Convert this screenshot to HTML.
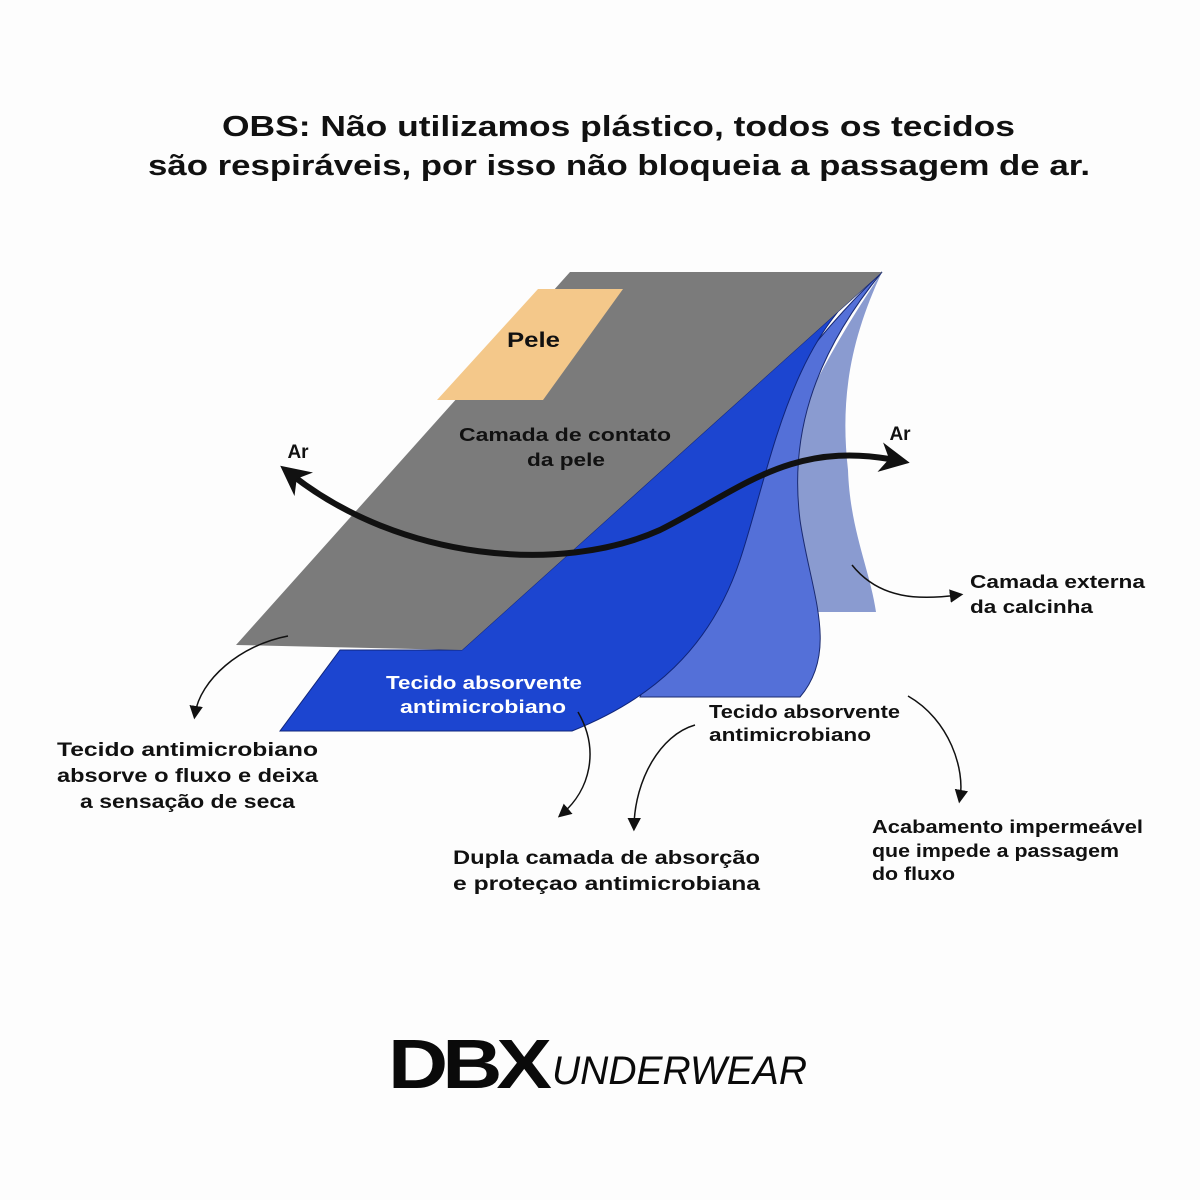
<!DOCTYPE html>
<html><head><meta charset="utf-8"><style>
html,body{margin:0;padding:0;background:#fdfdfd;}
svg{display:block}
text{font-family:"Liberation Sans","DejaVu Sans",sans-serif;font-weight:bold;}
</style></head><body>
<svg width="1200" height="1200" viewBox="0 0 1200 1200" xmlns="http://www.w3.org/2000/svg">
<defs>
<marker id="ah" viewBox="0 0 10 10" refX="5" refY="5" markerWidth="5" markerHeight="5" orient="auto-start-reverse">
<path d="M0,0 L10,5 L0,10 L3,5 z" fill="#111"/></marker>
<marker id="sh" viewBox="0 0 10 10" refX="6" refY="5" markerWidth="9" markerHeight="9" orient="auto">
<path d="M0,0 L10,5 L0,10 z" fill="#111"/></marker>
</defs>
<rect width="1200" height="1200" fill="#fdfdfd"/>
<text x="222" y="136" font-size="29" fill="#111" textLength="793" lengthAdjust="spacingAndGlyphs">OBS: Não utilizamos plástico, todos os tecidos</text>
<text x="148" y="175" font-size="29" fill="#111" textLength="942" lengthAdjust="spacingAndGlyphs">são respiráveis, por isso não bloqueia a passagem de ar.</text>

<!-- lightest back layer -->
<path d="M882,272 C830,350 770,450 760,560 L760,612 L876,612 C870,570 850,530 848,470 C840,400 850,340 882,272 Z" fill="#8a9bd0"/>
<!-- medium blue -->
<path d="M882,272 C820,330 720,450 700,560 L640,697 L800,697 C840,650 810,590 800,520 C790,440 810,360 882,272 Z" fill="#5470d8" stroke="#1a2a70" stroke-width="1"/>
<!-- dark blue -->
<path d="M882,272 C790,330 770,470 740,560 C710,650 650,700 572,731 L280,731 L340,650 L462,650 Z" fill="#1c45d0" stroke="#10257a" stroke-width="1"/>
<!-- gray -->
<path d="M570,272 L882,272 L462,650 L236,645 Z" fill="#7b7b7b"/>
<!-- Pele -->
<path d="M538,289 L623,289 L543,400 L437,400 Z" fill="#f4c88a"/>
<text x="507" y="347" font-size="21" fill="#111" textLength="53" lengthAdjust="spacingAndGlyphs">Pele</text>
<text x="459" y="441" font-size="18" fill="#111" textLength="212" lengthAdjust="spacingAndGlyphs">Camada de contato</text>
<text x="527" y="466" font-size="18" fill="#111" textLength="78" lengthAdjust="spacingAndGlyphs">da pele</text>
<text x="386" y="689" font-size="18" fill="#fff" textLength="196" lengthAdjust="spacingAndGlyphs">Tecido absorvente</text>
<text x="400" y="713" font-size="18" fill="#fff" textLength="166" lengthAdjust="spacingAndGlyphs">antimicrobiano</text>

<!-- Ar arrow -->
<path d="M292,475 C400,560 560,575 660,530 C740,490 790,440 895,460" fill="none" stroke="#111" stroke-width="6" marker-start="url(#ah)" marker-end="url(#ah)"/>
<text x="298" y="458" font-size="19" fill="#111" text-anchor="middle">Ar</text>
<text x="900" y="440" font-size="19" fill="#111" text-anchor="middle">Ar</text>

<!-- connectors -->
<g fill="none" stroke="#111" stroke-width="1.5" marker-end="url(#sh)">
<path d="M288,636 C240,645 200,680 195,714"/>
<path d="M578,712 C600,750 590,790 562,814"/>
<path d="M695,725 C660,735 635,780 634,826"/>
<path d="M908,696 C950,720 965,770 960,798"/>
<path d="M852,565 C880,600 920,600 958,595"/>
</g>

<g font-size="19" fill="#111">
<text x="57" y="756" textLength="261" lengthAdjust="spacingAndGlyphs">Tecido antimicrobiano</text>
<text x="57" y="782" textLength="261" lengthAdjust="spacingAndGlyphs">absorve o fluxo e deixa</text>
<text x="80" y="808" textLength="215" lengthAdjust="spacingAndGlyphs">a sensação de seca</text>
<text x="453" y="864" textLength="307" lengthAdjust="spacingAndGlyphs">Dupla camada de absorção</text>
<text x="453" y="890" textLength="307" lengthAdjust="spacingAndGlyphs">e proteçao antimicrobiana</text>
<text x="709" y="718" font-size="18" textLength="191" lengthAdjust="spacingAndGlyphs">Tecido absorvente</text>
<text x="709" y="741" font-size="18" textLength="162" lengthAdjust="spacingAndGlyphs">antimicrobiano</text>
<text x="970" y="588" font-size="18" textLength="175" lengthAdjust="spacingAndGlyphs">Camada externa</text>
<text x="970" y="613" font-size="18" textLength="123" lengthAdjust="spacingAndGlyphs">da calcinha</text>
<text x="872" y="833" font-size="18" textLength="271" lengthAdjust="spacingAndGlyphs">Acabamento impermeável</text>
<text x="872" y="857" font-size="18" textLength="247" lengthAdjust="spacingAndGlyphs">que impede a passagem</text>
<text x="872" y="880" font-size="18" textLength="83" lengthAdjust="spacingAndGlyphs">do fluxo</text>
</g>

<text x="388" y="1088" font-size="70" fill="#0a0a0a" style="font-weight:900;letter-spacing:-5px" textLength="158" lengthAdjust="spacingAndGlyphs">DBX</text>
<text x="552" y="1084" font-size="40" fill="#0a0a0a" style="font-weight:normal;font-style:italic" textLength="255" lengthAdjust="spacingAndGlyphs">UNDERWEAR</text>
</svg>
</body></html>
